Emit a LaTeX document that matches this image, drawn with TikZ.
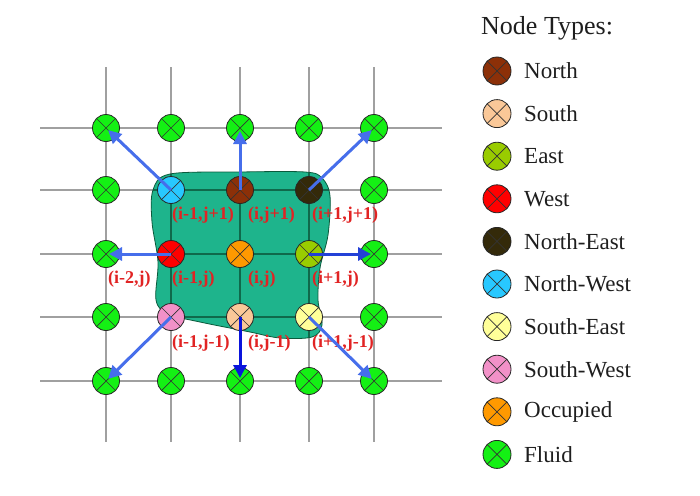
\documentclass[tikz,border=0pt]{standalone}
\usepackage{fontspec}
\setmainfont{Liberation Serif}
\usetikzlibrary{arrows.meta}
\definecolor{cNorth}{RGB}{140,48,8}
\definecolor{cSouth}{RGB}{250,200,152}
\definecolor{cEast}{RGB}{153,204,0}
\definecolor{cWest}{RGB}{255,0,0}
\definecolor{cNE}{RGB}{52,42,10}
\definecolor{cNW}{RGB}{40,200,255}
\definecolor{cSE}{RGB}{255,255,153}
\definecolor{cSW}{RGB}{242,145,200}
\definecolor{cOcc}{RGB}{255,153,0}
\definecolor{cFluid}{RGB}{20,240,20}
\definecolor{blobfill}{RGB}{30,180,140}
\definecolor{blobline}{RGB}{10,90,60}
\definecolor{innerline}{RGB}{15,105,75}
\definecolor{gridgray}{RGB}{160,160,160}
\definecolor{arrblue}{RGB}{70,110,235}
\definecolor{arrdark}{RGB}{35,65,215}
\definecolor{arrdeep}{RGB}{10,20,220}
\definecolor{labelred}{RGB}{225,35,35}
\definecolor{legtext}{RGB}{30,30,30}
\tikzset{
  gnode/.style={circle, draw=black!85, line width=0.8pt, minimum size=27pt, inner sep=0pt,
    path picture={\draw[black!80, line width=0.7pt]
      (path picture bounding box.north west) -- (path picture bounding box.south east)
      (path picture bounding box.north east) -- (path picture bounding box.south west);}},
  lnode/.style={gnode, minimum size=28pt},
  gridln/.style={draw=gridgray, line width=2pt},
  innerln/.style={draw=innerline, line width=2pt},
  flow/.style={draw=arrblue, line width=3pt, shorten >=3pt,
    -{Triangle[length=13pt, width=13pt]}},
  idx/.style={font=\fontsize{18}{18}\selectfont\bfseries, text=labelred, anchor=west, inner sep=0pt},
  legitem/.style={font=\fontsize{23}{23}\selectfont, text=legtext, anchor=west, inner sep=0pt},
}
\begin{document}
\begin{tikzpicture}[x=1pt,y=-1pt]
\useasboundingbox (0,0) rectangle (700,495);
% grid
\foreach \r in {128,190,254,317,381} {\draw[gridln] (40,\r) -- (442,\r);}
\foreach \c in {106,171,240,309,374} {\draw[gridln] (\c,67) -- (\c,442);}
% blob
\def\blobpath{plot[smooth cycle, tension=0.55] coordinates {
 (170,174) (240,172) (305,172) (322,178) (330,196) (328,235) (320,268) (318,300)
 (322,325) (312,337) (280,338) (250,332) (200,322) (168,314) (156,300) (158,262)
 (152,222) (153,190)}}
\fill[blobfill] \blobpath;
\begin{scope}
\clip \blobpath;
\foreach \r in {128,190,254,317,381} {\draw[innerln] (40,\r) -- (442,\r);}
\foreach \c in {106,171,240,309,374} {\draw[innerln] (\c,67) -- (\c,442);}
\end{scope}
\draw[blobline, line width=0.8pt] \blobpath;
% nodes row 1
\node[gnode, fill=cFluid] (a1) at (106,128) {};
\node[gnode, fill=cFluid] (a2) at (171,128) {};
\node[gnode, fill=cFluid] (a3) at (240,128) {};
\node[gnode, fill=cFluid] (a4) at (309,128) {};
\node[gnode, fill=cFluid] (a5) at (374,128) {};
% row 2
\node[gnode, fill=cFluid] (b1) at (106,190) {};
\node[gnode, fill=cNW] (b2) at (171,190) {};
\node[gnode, fill=cNorth] (b3) at (240,190) {};
\node[gnode, fill=cNE] (b4) at (309,190) {};
\node[gnode, fill=cFluid] (b5) at (374,190) {};
% row 3
\node[gnode, fill=cFluid] (c1) at (106,254) {};
\node[gnode, fill=cWest] (c2) at (171,254) {};
\node[gnode, fill=cOcc] (c3) at (240,254) {};
\node[gnode, fill=cEast] (c4) at (309,254) {};
\node[gnode, fill=cFluid] (c5) at (374,254) {};
% row 4
\node[gnode, fill=cFluid] (d1) at (106,317) {};
\node[gnode, fill=cSW] (d2) at (171,317) {};
\node[gnode, fill=cSouth] (d3) at (240,317) {};
\node[gnode, fill=cSE] (d4) at (309,317) {};
\node[gnode, fill=cFluid] (d5) at (374,317) {};
% row 5
\node[gnode, fill=cFluid] (e1) at (106,381) {};
\node[gnode, fill=cFluid] (e2) at (171,381) {};
\node[gnode, fill=cFluid] (e3) at (240,381) {};
\node[gnode, fill=cFluid] (e4) at (309,381) {};
\node[gnode, fill=cFluid] (e5) at (374,381) {};
% labels
\node[idx] (l1) at (172,215) {(i-1,j+1)};
\node[idx] (l2) at (248,215) {(i,j+1)};
\node[idx] (l3) at (312,215) {(i+1,j+1)};
\node[idx] (l4) at (108,279) {(i-2,j)};
\node[idx] (l5) at (172,279) {(i-1,j)};
\node[idx] (l6) at (248,279) {(i,j)};
\node[idx] (l7) at (312,279) {(i+1,j)};
\node[idx] (l8) at (172,343) {(i-1,j-1)};
\node[idx] (l9) at (248,343) {(i,j-1)};
\node[idx] (l10) at (312,343) {(i+1,j-1)};
% arrows
\draw[flow] (b2.center) -- (a1.center);
\draw[flow] (b3.center) -- (a3.center);
\draw[flow] (b4.center) -- (a5.center);
\draw[flow] (c2.center) -- (c1.center);
\draw[flow, draw=arrdark] (c4.center) -- (c5.center);
\draw[flow] (d2.center) -- (e1.center);
\draw[flow, draw=arrdeep] (d3.center) -- (e3.center);
\draw[flow] (d4.center) -- (e5.center);
% legend
\node[font=\fontsize{26}{26}\selectfont, text=legtext, anchor=west, inner sep=0pt] (title) at (481,28) {Node Types:};
\node[lnode, fill=cNorth] (k1) at (497,71) {};
\node[lnode, fill=cSouth] (k2) at (497,113.6) {};
\node[lnode, fill=cEast] (k3) at (497,156.2) {};
\node[lnode, fill=cWest] (k4) at (497,198.8) {};
\node[lnode, fill=cNE] (k5) at (497,241.4) {};
\node[lnode, fill=cNW] (k6) at (497,284) {};
\node[lnode, fill=cSE] (k7) at (497,326.6) {};
\node[lnode, fill=cSW] (k8) at (497,369.2) {};
\node[lnode, fill=cOcc] (k9) at (497,411.8) {};
\node[lnode, fill=cFluid] (k10) at (497,454.4) {};
\node[legitem] (t1) at (524,71) {North};
\node[legitem] (t2) at (524,113.6) {South};
\node[legitem] (t3) at (524,156.2) {East};
\node[legitem] (t4) at (524,198.8) {West};
\node[legitem] (t5) at (524,241.4) {North-East};
\node[legitem] (t6) at (524,284) {North-West};
\node[legitem] (t7) at (524,326.6) {South-East};
\node[legitem] (t8) at (524,369.2) {South-West};
\node[legitem] (t9) at (524,411.8) {Occupied};
\node[legitem] (t10) at (524,454.4) {Fluid};
\end{tikzpicture}
\end{document}
